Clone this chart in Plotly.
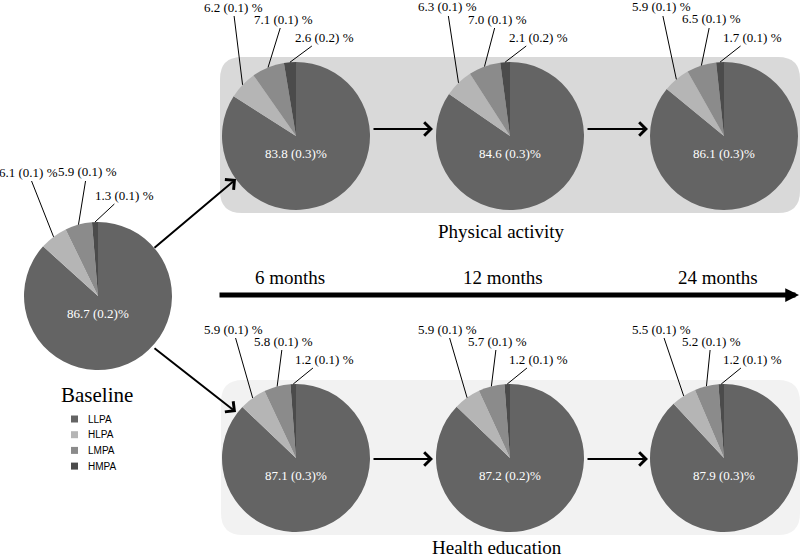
import math
import plotly.graph_objects as go

# ---------------- data ----------------
categories = ["LLPA", "HLPA", "LMPA", "HMPA"]
groups = ["Baseline", "PA 6 months", "PA 12 months", "PA 24 months",
          "HE 6 months", "HE 12 months", "HE 24 months"]
LLPA = [86.7, 83.8, 84.6, 86.1, 87.1, 87.2, 87.9]
LLPA_se = [0.2, 0.3, 0.3, 0.3, 0.3, 0.2, 0.3]
HLPA = [6.1, 6.2, 6.3, 5.9, 5.9, 5.9, 5.5]
HLPA_se = [0.1, 0.1, 0.1, 0.1, 0.1, 0.1, 0.1]
LMPA = [5.9, 7.1, 7.0, 6.5, 5.8, 5.7, 5.2]
LMPA_se = [0.1, 0.1, 0.1, 0.1, 0.1, 0.1, 0.1]
HMPA = [1.3, 2.6, 2.1, 1.7, 1.2, 1.2, 1.2]
HMPA_se = [0.1, 0.2, 0.2, 0.1, 0.1, 0.1, 0.1]
time_labels = ["6 months", "12 months", "24 months"]
arm_labels = ["Physical activity", "Health education"]
baseline_label = "Baseline"

# ---------------- layout / style ----------------
W, H = 800, 558
colors = ["#646464", "#b5b5b5", "#8b8b8b", "#4b4b4b"]
SERIF = "Liberation Serif, Times New Roman, serif"
SANS = "Liberation Sans, Arial, sans-serif"
R = 74
centers = [(98, 296), (296, 136), (510, 136), (724, 136),
           (296, 458), (510, 458), (724, 458)]
# label offsets (pixels, from pie centre) for HLPA, LMPA, HMPA
offs_base = [(-70, -124), (-11, -124), (26, -101)]
offs_other = [(-63, -129), (-13, -117), (28, -99)]


def px(x):
    return x / W


def py(y):
    return 1 - y / H


fig = go.Figure()
annotations = []
shapes = []


def label(x, y, text, size, color="black", family=SERIF, xanchor="center"):
    annotations.append(dict(x=px(x), y=py(y), xref="paper", yref="paper",
                            xanchor=xanchor, yanchor="middle",
                            text=text, showarrow=False,
                            font=dict(family=family, size=size, color=color)))


def rounded_rect(x0, y0, x1, y1, r, color):
    rx, ry = r / W, r / H
    X0, X1 = px(x0), px(x1)
    Y0, Y1 = py(y1), py(y0)  # bottom, top in paper
    path = (f"M{X0+rx},{Y1} L{X1-rx},{Y1} Q{X1},{Y1} {X1},{Y1-ry} "
            f"L{X1},{Y0+ry} Q{X1},{Y0} {X1-rx},{Y0} "
            f"L{X0+rx},{Y0} Q{X0},{Y0} {X0},{Y0+ry} "
            f"L{X0},{Y1-ry} Q{X0},{Y1} {X0+rx},{Y1} Z")
    return dict(type="path", path=path, xref="paper", yref="paper",
                fillcolor=color, line=dict(width=0), layer="below")


shapes.append(rounded_rect(220, 57, 800, 213, 22, "#d9d9d9"))
shapes.append(rounded_rect(221, 380, 800, 535, 22, "#f2f2f2"))

for i, g in enumerate(groups):
    cx, cy = centers[i]
    vals = [LLPA[i], HLPA[i], LMPA[i], HMPA[i]]
    ses = [LLPA_se[i], HLPA_se[i], LMPA_se[i], HMPA_se[i]]
    fig.add_trace(go.Pie(
        values=vals, labels=categories, name=g,
        marker=dict(colors=colors, line=dict(width=0)),
        sort=False, direction="clockwise", rotation=0,
        textinfo="none", hoverinfo="skip", showlegend=False,
        domain=dict(x=[px(cx - R), px(cx + R)], y=[py(cy + R), py(cy - R)]),
    ))
    # main label inside
    label(cx, cy + 17, f"{vals[0]:.1f} ({ses[0]:.1f})%", 13, color="white")
    # small slices with leader lines
    total = sum(vals)
    cum = vals[0]
    offs = offs_base if i == 0 else offs_other
    for k in range(1, 4):
        mid = (cum + vals[k] / 2) / total
        cum += vals[k]
        ang = 2 * math.pi * mid
        ex = cx + R * math.sin(ang)
        ey = cy - R * math.cos(ang)
        tx, ty = cx + offs[k - 1][0], cy + offs[k - 1][1]
        annotations.append(dict(
            x=px(ex), y=py(ey), xref="paper", yref="paper",
            ax=tx - ex, ay=ty - ey,
            text=f"{vals[k]:.1f} ({ses[k]:.1f}) %", showarrow=True,
            arrowhead=0, arrowwidth=1, arrowcolor="black", standoff=0,
            font=dict(family=SERIF, size=13, color="black")))


def arrow(x0, y0, x1, y1, width=2, head=4, size=1.3):
    annotations.append(dict(
        x=px(x1), y=py(y1), xref="paper", yref="paper",
        ax=x0 - x1, ay=y0 - y1, text="", showarrow=True,
        arrowhead=head, arrowsize=size, arrowwidth=width,
        arrowcolor="black", standoff=0))


arrow(153, 249, 236, 179)
arrow(153, 347, 236, 412)
for y in (129, 459):
    arrow(372, y, 433, y)
    arrow(586, y, 648, y)
# timeline
arrow(218, 295, 800, 295, width=5, head=2, size=0.55)

for t, xc in zip(time_labels, [290, 503, 718]):
    label(xc, 278, t, 19)
for t, (xc, yc) in zip(arm_labels, [(501, 231), (497, 547)]):
    label(xc, yc, t, 19)
label(97, 395, baseline_label, 21)

# legend (custom)
for k, cat in enumerate(categories):
    ly = 419 + k * 15.7
    shapes.append(dict(type="rect", xref="paper", yref="paper",
                       x0=px(71), x1=px(78), y0=py(ly + 3.5), y1=py(ly - 3.5),
                       fillcolor=colors[k], line=dict(width=0)))
    label(86, ly, cat, 10, family=SANS, xanchor="left")

fig.update_layout(
    width=W, height=H, margin=dict(l=0, r=0, t=0, b=0),
    paper_bgcolor="white", plot_bgcolor="white",
    shapes=shapes, annotations=annotations, showlegend=False,
)
fig.write_html(
    "out.html",
    config={"displayModeBar": False},
    post_script="document.body.style.margin='0';document.body.style.overflow='hidden';",
)
